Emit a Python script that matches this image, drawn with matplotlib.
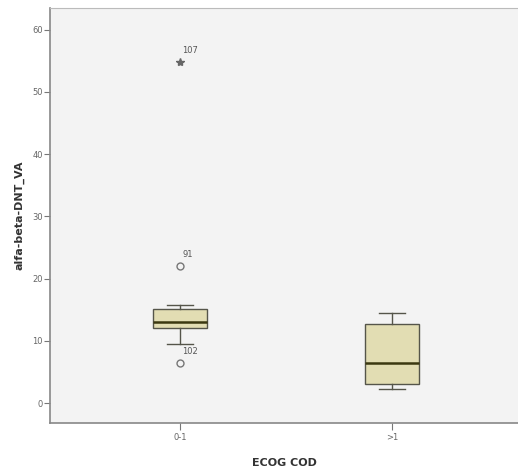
import matplotlib
matplotlib.use("Agg")
import matplotlib.pyplot as plt

# Groups and box statistics
groups = ["0-1", ">1"]
q1 = [12.1, 3.0]
median = [13.0, 6.4]
q3 = [15.1, 12.7]
whisker_low = [9.5, 2.2]
whisker_high = [15.8, 14.5]

# Outliers (group index, value, case label, kind)
out_group = [0, 0, 0]
out_value = [54.8, 22.0, 6.4]
out_label = ["107", "91", "102"]
out_kind = ["extreme", "outlier", "outlier"]

yticks = [0, 10, 20, 30, 40, 50, 60]

fig = plt.figure(figsize=(5.18, 4.67), dpi=100)
ax = fig.add_axes([50 / 518, 44 / 467, 468 / 518, 415 / 467])
ax.set_facecolor("#f3f3f3")

stats = []
for i in range(len(groups)):
    stats.append({
        "label": groups[i],
        "q1": q1[i], "med": median[i], "q3": q3[i],
        "whislo": whisker_low[i], "whishi": whisker_high[i],
        "fliers": [],
    })

positions = list(range(1, len(groups) + 1))
ax.bxp(stats, positions=positions, widths=0.255, showfliers=False,
       patch_artist=True,
       boxprops=dict(facecolor="#e2ddb3", edgecolor="#55554a", linewidth=1.0),
       medianprops=dict(color="#3b3810", linewidth=1.8),
       whiskerprops=dict(color="#55554a", linewidth=1.0),
       capprops=dict(color="#55554a", linewidth=1.0),
       capwidths=0.125)

for g, v, lab, kind in zip(out_group, out_value, out_label, out_kind):
    x = positions[g]
    if kind == "extreme":
        ax.plot(x, v, marker="*", color="#666666", markersize=6, linestyle="none")
    else:
        ax.plot(x, v, marker="o", markerfacecolor="none", markeredgecolor="#777777",
                markersize=5, markeredgewidth=1.0, linestyle="none")
    ax.text(x + 0.01, v + 1.2, lab, fontsize=6, color="#555555",
            ha="left", va="bottom")

ax.set_xlim(0.387, 2.594)
ax.set_ylim(-3.2, 63.5)
ax.set_yticks(yticks)
ax.set_xticks(positions)
ax.set_xticklabels(groups)

ax.tick_params(axis="y", direction="out", length=4, width=0.8, colors="#777777",
               labelsize=6, labelcolor="#666666", pad=1)
ax.tick_params(axis="x", direction="out", length=5, width=0.8, colors="#777777",
               labelsize=6, labelcolor="#666666", pad=2)

for side in ["right"]:
    ax.spines[side].set_visible(False)
ax.spines["left"].set_color("#888888")
ax.spines["bottom"].set_color("#888888")
ax.spines["top"].set_color("#bbbbbb")
ax.spines["left"].set_linewidth(1.2)
ax.spines["bottom"].set_linewidth(1.2)

ax.set_ylabel("alfa-beta-DNT_VA", fontsize=8, fontweight="bold", color="#333333",
              labelpad=6)
ax.set_xlabel("ECOG COD", fontsize=8, fontweight="bold", color="#333333",
              labelpad=12)

fig.savefig("out.png", dpi=100)
